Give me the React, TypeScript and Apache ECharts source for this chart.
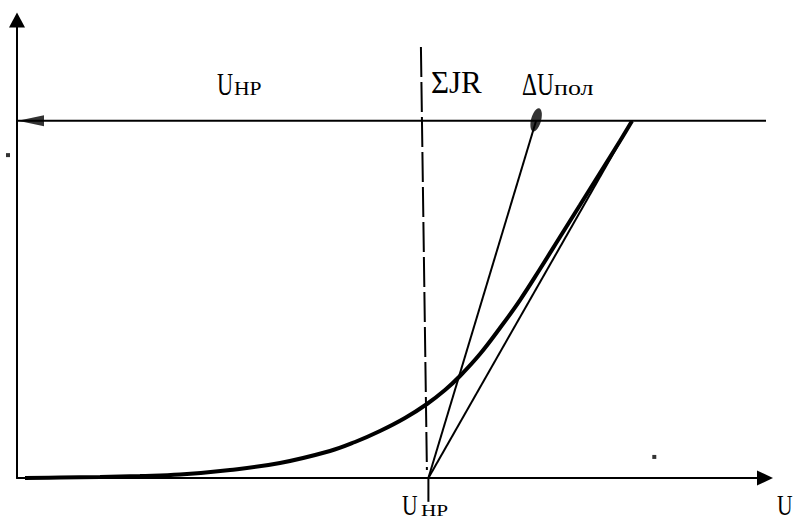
import React, { useEffect, useRef } from "react";
import * as echarts from "echarts";

// Coordinate units: x = voltage U (0..100), y = current (0..100)
const U_HP = 55;
const LEVEL = 78;
const curveX = [1.07, 5.75, 11.1, 16.44, 21.79, 28.48, 35.16, 41.84, 45.19, 48.53, 51.87, 54.81, 57.22, 59.22, 61.9, 64.57, 67.25, 69.92, 72.59, 75.27, 77.94, 80.61, 82.22];
const curveY = [0, 0.11, 0.22, 0.44, 0.76, 1.75, 3.28, 5.9, 7.86, 10.26, 13.1, 16.16, 19.21, 22.27, 27.07, 32.75, 38.86, 45.63, 52.62, 59.61, 66.59, 73.58, 77.95];
const polX = 69.4; // ΔU_пол point
const levelEndX = 102;
const dashTop: [number, number] = [54.0, 94.1];
const dashBottom: [number, number] = [54.8, 1.75];
const dots: [number, number][] = [[-1.2, 70.5], [85.2, 4.6]];

const FONT = "Liberation Serif";

export default function App() {
  const ref = useRef<HTMLDivElement>(null);
  useEffect(() => {
    if (!ref.current) return;
    const chart = echarts.init(ref.current, null, { renderer: "svg" });
    const black = "#000";
    const curve = curveX.map((x, i) => [x, curveY[i]]);
    const txt = (text: string, x: number, baseline: number, fs: number, sx: number) => ({
      type: "text",
      x,
      y: baseline - 0.3375 * fs,
      scaleX: sx,
      style: {
        text,
        fontFamily: FONT,
        fontSize: fs,
        lineHeight: Math.round(fs * 0.72),
        fill: black,
        align: "left",
        verticalAlign: "middle",
      },
    });
    chart.setOption({
      animation: false,
      grid: { left: 17, top: 20, width: 748, height: 458 },
      xAxis: {
        type: "value",
        min: 0,
        max: 100,
        axisLine: {
          show: true,
          lineStyle: { color: black, width: 2 },
          symbol: ["none", "triangle"],
          symbolSize: [15, 16],
        },
        axisTick: { show: false },
        axisLabel: { show: false },
        splitLine: { show: false },
      },
      yAxis: {
        type: "value",
        min: 0,
        max: 100,
        axisLine: {
          show: true,
          lineStyle: { color: black, width: 2 },
          symbol: ["none", "triangle"],
          symbolSize: [16, 15],
        },
        axisTick: { show: false },
        axisLabel: { show: false },
        splitLine: { show: false },
      },
      series: [
        {
          type: "line",
          data: [[0, LEVEL], [levelEndX, LEVEL]],
          symbol: "none",
          clip: false,
          lineStyle: { color: black, width: 2 },
        },
        {
          type: "line",
          data: [dashTop, dashBottom],
          symbol: "none",
          lineStyle: { color: black, width: 2, type: [30, 5] },
        },
        {
          type: "line",
          data: [[U_HP, 0], [U_HP, -5.2]],
          symbol: "none",
          clip: false,
          lineStyle: { color: black, width: 2 },
        },
        {
          type: "line",
          data: [[U_HP, 0], [polX, LEVEL]],
          symbol: "none",
          lineStyle: { color: black, width: 2 },
        },
        {
          type: "line",
          data: [[U_HP, 0], [curveX[curveX.length - 1], LEVEL]],
          symbol: "none",
          lineStyle: { color: black, width: 2 },
        },
        {
          type: "line",
          data: curve,
          smooth: 0.4,
          symbol: "none",
          lineStyle: { color: black, width: 4 },
        },
        {
          type: "scatter",
          data: [[polX, LEVEL + 0.2]],
          symbol: "circle",
          symbolSize: [10, 24],
          symbolRotate: -15,
          itemStyle: { color: black },
        },
        {
          type: "scatter",
          data: [[1.87, LEVEL]],
          symbol: "triangle",
          symbolSize: [11, 26],
          symbolRotate: 90,
          clip: false,
          itemStyle: { color: black },
        },
        {
          type: "scatter",
          data: dots,
          symbol: "rect",
          symbolSize: [4, 4],
          clip: false,
          itemStyle: { color: black },
        },
      ],
      graphic: [
        txt("U", 217, 95, 31, 0.72),
        txt("HP", 234, 95, 18, 1.2),
        txt("ΣJR", 431, 93, 31, 1),
        txt("ΔU", 522, 95, 31, 0.75),
        txt("пол", 554, 95, 20, 1.3),
        txt("U", 402, 515, 30, 0.72),
        txt("HP", 421, 516, 17, 1.25),
        txt("U", 777, 515, 30, 0.72),
      ],
    });
    return () => chart.dispose();
  }, []);
  return (
    <div
      ref={ref}
      style={{ position: "fixed", left: 0, top: 0, width: 797, height: 522, background: "#fff" }}
    />
  );
}
